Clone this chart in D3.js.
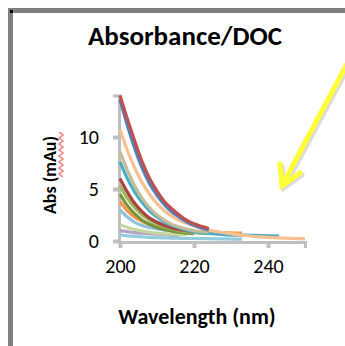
<!DOCTYPE html>
<html>
<head>
<meta charset="utf-8">
<script src="https://cdn.jsdelivr.net/npm/d3@7"></script>
<style>
  html, body { margin: 0; padding: 0; background: #fff; }
  svg { display: block; }
  text { font-family: Carlito, Lato, "Open Sans", sans-serif; fill: #000; }
</style>
</head>
<body>
<div id="chart"></div>
<script>
// -- data --
const wavelengths = [200, 202, 204, 206, 208, 210, 212, 214, 216, 218, 220, 224, 228, 233, 238, 243, 250];
const xTicks = [200, 220, 240];
const yTicks = [0, 5, 10];

const seriesColors = ['#B3A2C7', '#93CDDD', '#C3D69B', '#8FC3DB', '#F79646', '#77933C',
  '#9BBB59', '#A94442', '#4BACC6', '#C4BD97', '#FAC090', '#4F81BD', '#C0504D'];

const sLilac     = [1.0, 0.9, 0.8, 0.75, 0.7, 0.65, 0.6, 0.55, 0.5, null, null, null, null, null, null, null, null];
const sPaleBlue  = [0.6, 0.5, 0.45, 0.4, 0.35, 0.32, 0.3, 0.28, 0.26, 0.25, 0.24, 0.22, 0.2, 0.18, null, null, null];
const sPaleGreen = [1.6, 1.3, 1.1, 0.95, 0.85, 0.75, 0.7, 0.65, 0.6, 0.6, null, null, null, null, null, null, null];
const sSkyBlue   = [3.0, 2.3, 1.8, 1.5, 1.3, 1.15, 1.05, 1.0, 0.95, 0.9, 0.9, 0.85, 0.8, null, null, null, null];
const sOrange    = [3.8, 2.9, 2.3, 1.9, 1.6, 1.35, 1.2, 1.1, 1.0, 0.95, 0.9, 0.85, 0.8, 0.75, null, null, null];
const sOlive     = [4.5, 3.4, 2.6, 2.0, 1.6, 1.3, 1.1, 0.95, 0.85, 0.75, 0.7, null, null, null, null, null, null];
const sGreen     = [5.3, 4.1, 3.2, 2.5, 2.0, 1.6, 1.35, 1.15, 1.0, 0.9, 0.8, 0.7, null, null, null, null, null];
const sDarkRed   = [6.0, 4.7, 3.6, 2.8, 2.2, 1.8, 1.5, 1.25, 1.1, 1.0, 0.9, null, null, null, null, null, null];
const sTeal      = [7.6, 6.0, 4.7, 3.7, 2.9, 2.3, 1.85, 1.5, 1.25, 1.05, 0.9, 0.72, 0.62, 0.56, 0.52, 0.48, null];
const sKhaki     = [8.6, 6.8, 5.3, 4.1, 3.2, 2.5, 2.0, 1.6, 1.35, 1.15, 1.0, 0.85, null, null, null, null, null];
const sPeach     = [10.7, 8.7, 7.0, 5.6, 4.5, 3.6, 2.9, 2.4, 2.0, 1.7, 1.45, 1.05, 0.8, 0.55, 0.4, 0.3, 0.2];
const sBlue      = [13.6, 11.1, 8.9, 7.0, 5.5, 4.4, 3.5, 2.8, 2.3, 1.85, 1.5, 1.05, null, null, null, null, null];
const sRed       = [14.0, 11.7, 9.6, 7.6, 6.0, 4.8, 3.8, 3.1, 2.5, 2.0, 1.65, 1.2, null, null, null, null, null];

const allSeries = [sLilac, sPaleBlue, sPaleGreen, sSkyBlue, sOrange, sOlive,
  sGreen, sDarkRed, sTeal, sKhaki, sPeach, sBlue, sRed];

const W = 345, H = 346;
const svg = d3.select('#chart').append('svg').attr('width', W).attr('height', H);

// frame of the cropped chart
svg.append('rect').attr('x', 8).attr('y', 8).attr('width', W - 8).attr('height', 5).attr('fill', '#7f7f7f');
svg.append('rect').attr('x', 8).attr('y', 8).attr('width', 5).attr('height', H - 8).attr('fill', '#7f7f7f');
svg.append('rect').attr('x', 10).attr('y', 10).attr('width', 3).attr('height', 3).attr('fill', '#000');

const x = d3.scaleLinear().domain([200, 250]).range([120, 305]);
const y = d3.scaleLinear().domain([0, 14]).range([241, 95.4]);

// title
svg.append('text').attr('x', 185).attr('y', 45).attr('text-anchor', 'middle')
  .attr('font-size', '27px').attr('font-weight', 'bold').text('Absorbance/DOC');

// axes
const xAxis = svg.append('g').attr('transform', 'translate(0,242)')
  .call(d3.axisBottom(x).tickValues(xTicks).tickSize(6).tickPadding(11).tickFormat(d3.format('d')));
const yAxis = svg.append('g').attr('transform', 'translate(119,0)')
  .call(d3.axisLeft(y).tickValues(yTicks).tickSize(6).tickPadding(14));
[xAxis, yAxis].forEach(ax => {
  ax.select('.domain').attr('stroke', '#bfbfbf').attr('stroke-width', 3);
  ax.selectAll('.tick line').attr('stroke', '#bfbfbf').attr('stroke-width', 4);
  ax.selectAll('.tick text').attr('font-size', '20px').attr('fill', '#000')
    .attr('font-family', 'Carlito, Lato, sans-serif');
});

// series
const line = d3.line()
  .defined(d => d[1] != null)
  .x(d => x(d[0]))
  .y(d => y(d[1]))
  .curve(d3.curveMonotoneX);

svg.append('g').selectAll('path')
  .data(allSeries)
  .join('path')
  .attr('d', vals => line(vals.map((v, i) => [wavelengths[i], v])))
  .attr('fill', 'none')
  .attr('stroke', (d, i) => seriesColors[i])
  .attr('stroke-width', 3.2)
  .attr('stroke-linejoin', 'round');

// axis titles
svg.append('text').attr('x', 197).attr('y', 324).attr('text-anchor', 'middle')
  .attr('font-size', '22px').attr('font-weight', 'bold').text('Wavelength (nm)');
svg.append('text').attr('transform', 'translate(56,175) rotate(-90)').attr('text-anchor', 'middle')
  .attr('font-size', '18px').attr('font-weight', 'bold').text('Abs (mAu)');

// spell-check squiggle under "(mAu"
const sq = [];
for (let yy = 132; yy <= 178; yy += 3) sq.push([(yy - 132) % 6 === 0 ? 59 : 63, yy]);
svg.append('path').attr('d', d3.line()(sq)).attr('fill', 'none')
  .attr('stroke', '#f07d7d').attr('stroke-width', 1.5);

// yellow annotation arrow
const arrow = svg.append('g');
[[2, 2, '#999', 0.35], [0, 0, '#ffff33', 1]].forEach(([dx, dy, c, o]) => {
  const g = arrow.append('g').attr('transform', `translate(${dx},${dy})`).attr('opacity', o);
  g.append('line').attr('x1', 347).attr('y1', 64).attr('x2', 284).attr('y2', 182)
    .attr('stroke', c).attr('stroke-width', 5);
  g.append('path').attr('d', 'M280,164 L282,186 L300,173')
    .attr('fill', 'none').attr('stroke', c).attr('stroke-width', 5)
    .attr('stroke-linejoin', 'miter').attr('stroke-linecap', 'round');
});
</script>
</body>
</html>
